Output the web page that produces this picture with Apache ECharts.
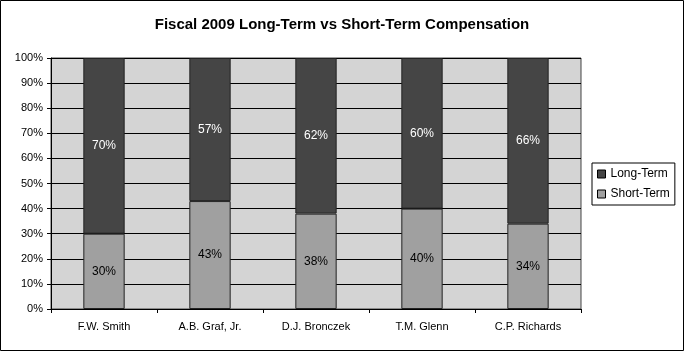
<!DOCTYPE html>
<html><head><meta charset="utf-8">
<script src="https://cdn.jsdelivr.net/npm/echarts@6/dist/echarts.min.js"></script>
<style>html,body{margin:0;padding:0;background:#fff}#c{width:684px;height:351px}</style>
</head><body><div id="c"></div>
<script>
const categories = ['F.W. Smith', 'A.B. Graf, Jr.', 'D.J. Bronczek', 'T.M. Glenn', 'C.P. Richards'];
const shortTerm = [30, 43, 38, 40, 34];
const longTerm = [70, 57, 62, 60, 66];
const yTicks = [0, 10, 20, 30, 40, 50, 60, 70, 80, 90, 100];
const FONT = 'Liberation Sans, Arial, sans-serif';
const chart = echarts.init(document.getElementById('c'));
chart.setOption({
  animation: false,
  title: {text: 'Fiscal 2009 Long-Term vs Short-Term Compensation', left: 'center', top: 12,
    textStyle: {fontFamily: FONT, fontSize: 15, fontWeight: 'bold', color: '#000'}},
  graphic: [{type: 'rect', shape: {x: 0.5, y: 0.5, width: 683, height: 350},
    style: {fill: 'none', stroke: '#000', lineWidth: 1}, silent: true}],
  grid: {left: 51, right: 103, top: 58, bottom: 42, show: true, backgroundColor: '#d4d4d4',
    borderColor: '#444', borderWidth: 1},
  legend: {orient: 'vertical', left: 592, top: 163, icon: 'rect', itemWidth: 8, itemHeight: 8, itemGap: 8,
    padding: [5, 5, 5, 5], borderColor: '#000', borderWidth: 1, backgroundColor: '#fff',
    textStyle: {fontFamily: FONT, fontSize: 12, color: '#000'},
    data: [{name: 'Long-Term', itemStyle: {borderColor: '#000', borderWidth: 1}},
           {name: 'Short-Term', itemStyle: {borderColor: '#000', borderWidth: 1}}]},
  xAxis: {type: 'category', data: categories,
    axisLine: {lineStyle: {color: '#000'}},
    axisTick: {show: true, length: 4, lineStyle: {color: '#000'}},
    axisLabel: {fontFamily: FONT, fontSize: 11, color: '#000', margin: 12}},
  yAxis: {type: 'value', min: 0, max: 100, interval: 10,
    axisLine: {show: true, lineStyle: {color: '#000'}},
    axisTick: {show: true, length: 4, lineStyle: {color: '#000'}},
    splitLine: {lineStyle: {color: '#000', width: 1}},
    axisLabel: {fontFamily: FONT, fontSize: 11, color: '#000', margin: 8,
      formatter: v => yTicks.includes(v) ? v + '%' : ''}},
  series: [
    {name: 'Short-Term', type: 'bar', stack: 'a', data: shortTerm, barWidth: '39%',
      itemStyle: {color: '#a0a0a0', borderColor: '#222', borderWidth: 1},
      label: {show: true, position: 'inside', formatter: '{c}%', fontFamily: FONT, fontSize: 12, color: '#000'}},
    {name: 'Long-Term', type: 'bar', stack: 'a', data: longTerm, barWidth: '39%',
      itemStyle: {color: '#454545', borderColor: '#222', borderWidth: 1},
      label: {show: true, position: 'inside', formatter: '{c}%', fontFamily: FONT, fontSize: 12, color: '#fff'}}
  ]
});
</script></body></html>
